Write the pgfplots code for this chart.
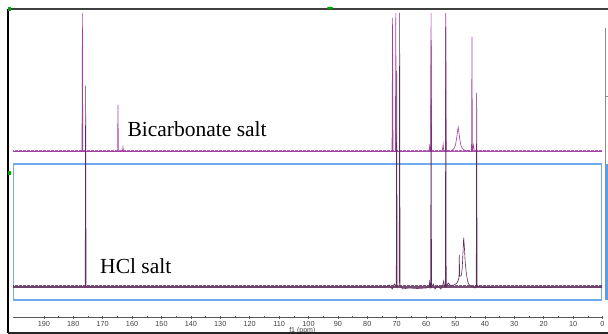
\documentclass[border=0pt]{standalone}
\usepackage{pgfplots}
\pgfplotsset{compat=1.18}
\usepackage{fontspec}
\setmainfont{Liberation Serif}
\setsansfont{Liberation Sans}
\definecolor{bic}{HTML}{A53DA5}
\definecolor{bicbase}{HTML}{8E1E8E}
\definecolor{hcl}{HTML}{5E2C5C}
\definecolor{hclbase}{HTML}{4A1446}
\definecolor{boxblue}{HTML}{72AAF0}
\definecolor{stripblue}{HTML}{5E9DEB}
\begin{document}
\begin{tikzpicture}[x=1pt,y=1pt]
\begin{axis}[name=main, at={(0,0)}, anchor=south west, scale only axis,
  width=608pt, height=334pt, xmin=-1.87, xmax=204.93, x dir=reverse,
  ymin=0, ymax=334, hide axis, clip=true]
  % blue selection box
  \draw[boxblue, line width=1.1pt] (axis cs:200.4,34) rectangle (axis cs:0.27,170);
  \fill[stripblue] (axis cs:-0.95,34) rectangle (axis cs:-1.87,170);
  % baseline noise bands
  \addplot[bicbase, line width=1.7pt, opacity=0.75] coordinates {(200.4,182.5) (0.1,182.5)};
  \addplot[bic, line width=0.8pt, dash pattern=on 0.7pt off 1.1pt on 1.4pt off 0.8pt, opacity=0.8] coordinates {(200.4,183.6) (0.1,183.6)};
  \addplot[hclbase, line width=1.7pt, opacity=0.75] coordinates {(200.4,47) (0.1,47)};
  \addplot[hcl, line width=0.8pt, dash pattern=on 0.7pt off 1.1pt on 1.4pt off 0.8pt, opacity=0.8] coordinates {(200.4,48.1) (0.1,48.1)};
  % Bicarbonate salt spectrum
  \addplot[bic, line width=0.6pt, sharp plot] coordinates {
    (200.4,182.5) (177.05,182.5) (176.9,321) (176.75,182.5)
    (164.95,182.5) (164.8,229) (164.65,182.5)
    (163.3,182.5) (163.1,187) (162.9,182.5)
    (71.6,182.5) (71.4,316) (71.25,182.5)
    (70.45,182.5) (70.3,321) (70.15,182.5)
    (59.0,183) (58.8,188) (58.6,183) (58.45,182.5) (58.3,321) (58.15,182.5)
    (54.5,183) (54.2,190) (54.0,183) (53.45,182.5) (53.3,321) (53.15,182.5)
    (51.5,183) (50.5,185.5) (50.0,189) (49.6,196) (49.3,203) (49.1,207)
    (48.9,203) (48.6,196) (48.2,189) (47.7,185.5) (46.8,183.5) (45.5,183)
    (44.55,182.5) (44.4,297) (44.25,182.5) (43.9,189) (43.6,183)
    (0.1,182.5)
  };
  % HCl salt spectrum
  \addplot[hcl, line width=0.6pt, sharp plot] coordinates {
    (200.4,47) (175.95,47) (175.8,248.3) (175.65,47)
    (74.0,47) (72.5,49) (71.5,45) (70.8,50) (70.15,47) (70.0,263) (69.85,48)
    (69.15,48) (69.0,321) (68.85,48) (68.0,45) (66.0,46) (63.0,45.5) (60.0,46)
    (59.0,47) (58.8,52) (58.6,46) (58.45,47) (58.3,294) (58.15,47)
    (57.5,50) (57.0,45) (56.0,48) (55.0,45) (54.3,49) (54.0,53) (53.7,47)
    (53.45,47) (53.3,307) (53.15,47) (52.5,51) (51.5,48) (50.5,49) (49.5,51)
    (49.0,54) (48.8,57) (48.7,79) (48.6,58) (48.2,58) (48.0,59) (47.7,66)
    (47.45,82) (47.22,96.3) (47.0,88) (46.7,72) (46.3,60) (45.8,52) (45.3,49)
    (44.5,47.5) (43.3,46) (43.0,49) (42.95,47) (42.8,241) (42.65,47)
    (42.3,48) (41.0,46.5) (0.1,47)
  };
  \node[anchor=base west, inner sep=0pt, font=\fontsize{21.5}{24}\selectfont] at (axis cs:161.6,197.3) {Bicarbonate salt};
  \node[anchor=base west, inner sep=0pt, font=\fontsize{21.5}{24}\selectfont] at (axis cs:170.9,60.7) {HCl salt};
  \node[anchor=center, inner sep=0pt, font=\fontsize{7}{8}\sffamily, text=black!75] at (axis cs:102.1,3.0) {f1 (ppm)};
\end{axis}
\begin{axis}[at={(13pt,16.7pt)}, anchor=south west, scale only axis,
  width=590pt, height=5pt, xmin=-0.17, xmax=200.5, x dir=reverse,
  ymin=0, ymax=1, axis x line=bottom, axis y line=none,
  axis line style={-, black!65, line width=0.5pt},
  xtick={0,10,...,190}, minor x tick num=1,
  major tick length=2.5pt, minor tick length=2pt, tick align=center,
  tick style={black!65, line width=0.5pt},
  /pgf/number format/assume math mode=true,
  xticklabel style={font=\fontsize{7.3}{8}\sffamily, text=black!75, anchor=center, yshift=-5.6pt}]
\end{axis}
% frame
\draw[black!75, line width=2pt] (8,325) -- (608,325);
\draw[black, line width=1.4pt] (8,325) -- (8,1);
\draw[black!85, line width=1.4pt] (8,1) -- (608,1);
\draw[black!45, line width=0.6pt] (605.3,306) -- (605.3,170);
\draw[black!45, line width=0.6pt] (605.3,238) -- (607.5,238);
\fill[green!65!black] (330,326) ellipse (3pt and 1.3pt);
\fill[green!65!black] (8,323) rectangle (10.5,327);
\fill[green!65!black] (8,159) rectangle (10.5,163);
\pgfresetboundingbox
\path[use as bounding box] (0,0) rectangle (608,334);
\end{tikzpicture}
\end{document}
